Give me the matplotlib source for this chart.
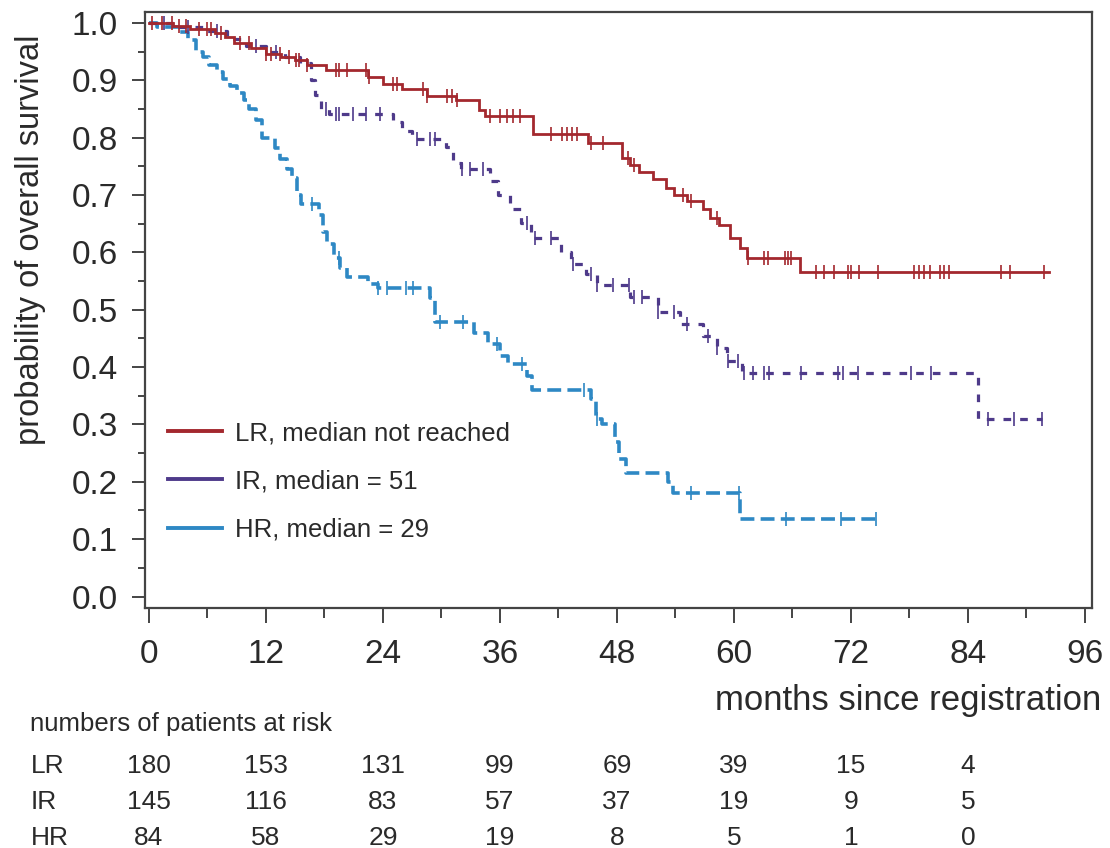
import numpy as np
import matplotlib
matplotlib.use('Agg')
import matplotlib.pyplot as plt
from matplotlib.lines import Line2D
from matplotlib.ticker import MultipleLocator
from matplotlib.transforms import blended_transform_factory

plt.rcParams['font.family'] = ['Liberation Sans', 'DejaVu Sans']
plt.rcParams['lines.scale_dashes'] = False

# ---------------- data ----------------
groups = ['LR', 'IR', 'HR']
legend_labels = ['LR, median not reached', 'IR, median = 51', 'HR, median = 29']

lr_times = [0, 2.5, 4.2, 6.8, 7.8, 8.7, 10.5, 12.0, 13.5, 15.0, 16.2, 18.2, 22.5, 24.0,
            26.0, 28.5, 31.5, 33.8, 34.5, 39.4, 45.0, 48.5, 49.3, 50.3, 51.7, 53.0,
            53.8, 55.2, 56.8, 57.5, 58.5, 59.6, 60.6, 61.3, 66.8]
lr_surv = [1.0, 0.995, 0.99, 0.982, 0.975, 0.965, 0.957, 0.946, 0.94, 0.935, 0.927, 0.918,
           0.905, 0.893, 0.885, 0.873, 0.865, 0.848, 0.838, 0.806, 0.790, 0.765, 0.752,
           0.740, 0.727, 0.712, 0.700, 0.690, 0.676, 0.660, 0.648, 0.625, 0.607, 0.590, 0.566]
lr_end = 92.3
lr_censor = [0.3, 1.3, 2.4, 3.1, 3.8, 5.1, 5.9, 6.4, 7.4, 9.3, 10.3, 12.0, 12.5, 13.4, 14.4,
             15.1, 15.4, 16.2, 19.2, 19.5, 20.3, 22.3, 22.6, 25.0, 25.4, 28.1, 28.5, 30.6,
             31.1, 31.6, 35.0, 36.0, 36.7, 37.3, 38.1, 41.2, 42.4, 42.9, 43.4, 43.9, 45.3,
             46.6, 49.1, 49.7, 54.8, 55.6, 58.3, 61.4, 63.1, 63.5, 65.2, 65.5, 65.8, 68.4,
             69.2, 70.3, 71.7, 72.0, 72.8, 74.8, 78.5, 79.0, 79.5, 80.1, 81.1, 81.5, 82.1,
             87.4, 88.3, 91.8]

ir_times = [0, 3.0, 6.0, 8.0, 10.0, 12.0, 14.0, 15.5, 16.6, 17.0, 17.6, 18.5, 25.0, 26.0,
            27.0, 30.5, 31.2, 32.0, 35.0, 35.8, 37.0, 38.2, 39.2, 42.3, 43.3, 44.8, 46.0,
            49.3, 52.2, 54.5, 56.8, 58.3, 59.3, 60.8, 85.0]
ir_surv = [1.0, 0.993, 0.986, 0.972, 0.96, 0.95, 0.94, 0.93, 0.90, 0.875, 0.85, 0.842,
           0.828, 0.812, 0.797, 0.784, 0.755, 0.745, 0.724, 0.70, 0.676, 0.652, 0.625,
           0.60, 0.58, 0.562, 0.543, 0.522, 0.496, 0.475, 0.455, 0.433, 0.41, 0.39, 0.31]
ir_end = 91.6
ir_censor = [1.5, 4.0, 7.0, 11.0, 13.0, 18.2, 19.2, 19.5, 20.9, 22.3, 23.7, 27.5, 28.8,
             29.3, 32.1, 32.9, 34.3, 38.8, 39.6, 41.2, 43.5, 45.3, 46.0, 47.6, 49.2, 49.7,
             50.6, 52.2, 53.8, 55.2, 57.3, 58.3, 59.4, 60.4, 61.0, 62.0, 63.1, 63.6, 66.9,
             70.7, 71.2, 72.7, 78.2, 80.2, 86.1, 88.7, 91.6]

hr_times = [0, 0.8, 3.2, 4.0, 4.8, 5.5, 6.2, 7.0, 7.6, 8.3, 9.0, 9.7, 10.3, 11.0, 11.6,
            12.9, 13.4, 14.2, 14.7, 15.2, 15.6, 17.4, 17.8, 18.3, 19.0, 19.6, 20.3, 22.5,
            23.5, 28.8, 29.3, 33.3, 34.8, 36.0, 36.8, 38.8, 39.3, 45.3, 45.8, 46.5, 47.8,
            48.2, 48.9, 53.2, 53.7, 60.6]
hr_surv = [1.0, 0.993, 0.985, 0.97, 0.95, 0.94, 0.927, 0.915, 0.903, 0.89, 0.878, 0.866,
           0.85, 0.83, 0.80, 0.782, 0.762, 0.745, 0.73, 0.70, 0.685, 0.665, 0.635, 0.615,
           0.59, 0.572, 0.557, 0.545, 0.537, 0.52, 0.478, 0.46, 0.44, 0.42, 0.405, 0.385,
           0.36, 0.345, 0.31, 0.30, 0.27, 0.24, 0.215, 0.20, 0.18, 0.135]
hr_end = 74.8
hr_censor = [16.7, 19.5, 23.5, 24.4, 26.4, 27.1, 29.8, 32.2, 35.7, 38.3, 44.6, 46.0,
             55.6, 60.5, 65.3, 71.0, 74.6]

risk_months = [0, 12, 24, 36, 48, 60, 72, 84]
lr_risk = [180, 153, 131, 99, 69, 39, 15, 4]
ir_risk = [145, 116, 83, 57, 37, 19, 9, 5]
hr_risk = [84, 58, 29, 19, 8, 5, 1, 0]

x_ticks = [0, 12, 24, 36, 48, 60, 72, 84, 96]
y_ticks = [0.0, 0.1, 0.2, 0.3, 0.4, 0.5, 0.6, 0.7, 0.8, 0.9, 1.0]

# ---------------- style ----------------
c_lr = '#a3282e'
c_ir = '#4e3a8a'
c_hr = '#2e88c4'
txt = '#2a2a2a'
spine_c = '#444444'

W, H = 1110, 848
fig = plt.figure(figsize=(W / 100, H / 100), dpi=100)
ax = fig.add_axes([145 / W, 1 - 608 / H, (1092 - 145) / W, (608 - 12) / H])


def surv_at(times, surv, t):
    idx = np.searchsorted(np.asarray(times), np.asarray(t), side='right') - 1
    return np.asarray(surv)[idx]


def draw(times, surv, end, censor, color, lw, dashes):
    xs = list(times) + [end]
    ys = list(surv) + [surv[-1]]
    line, = ax.step(xs, ys, where='post', color=color, lw=lw, solid_joinstyle='miter')
    if dashes is not None:
        line.set_dashes(dashes)
        line.set_dash_capstyle('butt')
    ax.plot(censor, surv_at(times, surv, censor), ls='none', marker='|',
            markersize=10, mew=1.2, color=color)


draw(hr_times, hr_surv, hr_end, hr_censor, c_hr, 2.6, (10, 4.5))
draw(ir_times, ir_surv, ir_end, ir_censor, c_ir, 2.3, (5.5, 6.5))
draw(lr_times, lr_surv, lr_end, lr_censor, c_lr, 2.0, None)

ax.set_xlim(-0.41, 96.72)
ax.set_ylim(-0.02, 1.019)
ax.set_xticks(x_ticks)
ax.set_yticks(y_ticks)
ax.set_yticklabels([f'{v:.1f}' for v in y_ticks])
ax.xaxis.set_minor_locator(MultipleLocator(6))
ax.yaxis.set_minor_locator(MultipleLocator(0.05))
ax.tick_params(axis='both', which='major', direction='out', color=spine_c, width=1.4,
               labelsize=24, labelcolor=txt)
ax.tick_params(axis='x', which='major', length=11, pad=11)
ax.tick_params(axis='x', which='minor', length=7, width=1.4, color=spine_c)
ax.tick_params(axis='y', which='major', length=9.5, pad=10)
ax.tick_params(axis='y', which='minor', length=5, width=1.4, color=spine_c)
for s in ax.spines.values():
    s.set_color(spine_c)
    s.set_linewidth(1.6)

fig.text(31 / W, 1 - 240 / H, 'probability of overall survival', rotation=90,
         ha='center', va='center', fontsize=23.5, color=txt)
fig.text(1101 / W, 1 - 710 / H, 'months since registration', ha='right',
         va='baseline', fontsize=25, color=txt)

handles = [Line2D([], [], color=c, lw=2.8) for c in (c_lr, c_ir, c_hr)]
ax.legend(handles, legend_labels, loc='upper left',
          bbox_to_anchor=((168 - 145) / 947, 1 - (421 - 12) / 596),
          frameon=False, fontsize=18.5, handlelength=2.1, handletextpad=0.5,
          labelspacing=0.95, borderpad=0, borderaxespad=0, labelcolor=txt)

# risk table
trans = blended_transform_factory(ax.transData, fig.transFigure)
fig.text(30 / W, 1 - 731 / H, 'numbers of patients at risk', ha='left',
         va='baseline', fontsize=18.5, color=txt)
row_y = [773, 809, 845]
for g, risk, yy in zip(groups, (lr_risk, ir_risk, hr_risk), row_y):
    fig.text(31 / W, 1 - yy / H, g, ha='left', va='baseline', fontsize=19, color=txt)
    for m, n in zip(risk_months, risk):
        ax.text(m, 1 - yy / H, str(n), transform=trans, ha='center', va='baseline',
                fontsize=19, color=txt)

fig.savefig('out.png', dpi=100, facecolor='white')
